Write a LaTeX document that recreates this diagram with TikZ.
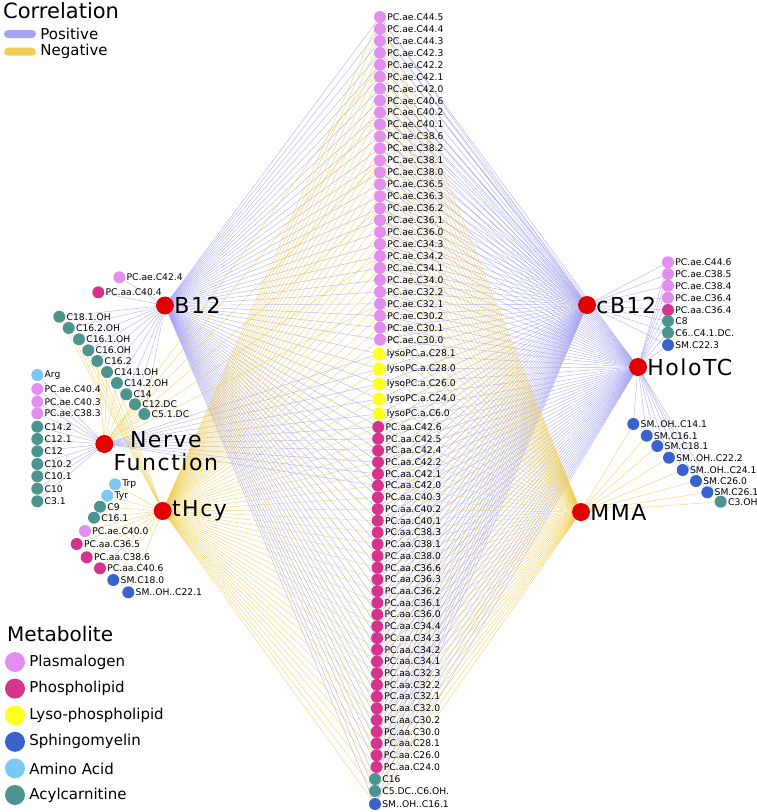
\documentclass[tikz,border=0pt]{standalone}
\usepackage{fontspec}
\setmainfont{DejaVu Sans}
\newfontfamily\metfont{DejaVu Sans}
\newfontfamily\hubfont[LetterSpace=7]{DejaVu Sans}
\pgfdeclarelayer{background}
\pgfsetlayers{background,main}
\definecolor{plasm}{HTML}{E38EEE}
\definecolor{phospho}{HTML}{D6338F}
\definecolor{lyso}{HTML}{FFFF22}
\definecolor{sphingo}{HTML}{3A62CC}
\definecolor{amino}{HTML}{7BC9F2}
\definecolor{acyl}{HTML}{4C958F}
\definecolor{hubred}{HTML}{E10000}
\definecolor{poscol}{HTML}{A3A3F0}
\definecolor{negcol}{HTML}{EFCE55}
\tikzset{
  met/.style = {circle, inner sep=0pt, minimum size=12pt, fill=#1},
  met_label/.style = {font=\metfont\fontsize{9.2}{9.2}\selectfont, inner sep=1pt},
  hub_node/.style = {circle, inner sep=0pt, minimum size=18pt, fill=hubred},
  hub_label/.style = {font=\hubfont\fontsize{22}{23}\selectfont, inner sep=0pt},
  key_bar/.style = {rectangle, rounded corners=4pt, inner sep=0pt,
    minimum width=32pt, minimum height=8pt, fill=#1},
  key_dot/.style = {circle, inner sep=0pt, minimum size=20pt, fill=#1},
  key_label/.style = {font=\fontsize{15}{15}\selectfont, inner sep=0pt, xshift=4pt},
  pos_edge/.style = {draw=poscol, line width=0.45pt, draw opacity=0.8},
  neg_edge/.style = {draw=negcol, line width=0.45pt, draw opacity=0.8}
}
\begin{document}
\begin{tikzpicture}[x=1pt, y=-1pt]
  \useasboundingbox (0,0) rectangle (757,812);
  % hubs
  \node[hub_node, label={[hub_label]right:B12}] (hub_b12) at (165,305.5) {};
  \node[hub_node, label={[hub_label]right:cB12}] (hub_cb12) at (587,305) {};
  \node[hub_node, label={[hub_label]right:HoloTC}] (hub_holotc) at (638,367) {};
  \node[hub_node, label={[hub_label, align=center, yshift=-7.5pt]right:{Nerve\\Function}}] (hub_nf) at (104.3,444) {};
  \node[hub_node, label={[hub_label]right:tHcy}] (hub_thcy) at (162.7,511) {};
  \node[hub_node, label={[hub_label]right:MMA}] (hub_mma) at (581,512) {};
  % centre column
  \foreach \mname [count=\i] in {C44.5,C44.4,C44.3,C42.3,C42.2,C42.1,C42.0,
      C40.6,C40.2,C40.1,C38.6,C38.2,C38.1,C38.0,C36.5,C36.3,C36.2,C36.1,
      C36.0,C34.3,C34.2,C34.1,C34.0,C32.2,C32.1,C30.2,C30.1,C30.0}
    \node[met=plasm, label={[met_label]right:PC.ae.\mname}] (ae\i) at (380,{5.05+11.95*\i}) {};
  \foreach \mname [count=\i] in {C28.1,C28.0,C26.0,C24.0,C6.0}
    \node[met=lyso, minimum size=13pt, label={[met_label]right:lysoPC.a.\mname}] (ly\i) at (379,{339+15*\i}) {};
  \foreach \mname [count=\i] in {C42.6,C42.5,C42.4,C42.2,C42.1,C42.0,C40.3,
      C40.2,C40.1,C38.3,C38.1,C38.0,C36.6,C36.3,C36.2,C36.1,C36.0,C34.4,
      C34.3,C34.2,C34.1,C32.3,C32.2,C32.1,C32.0,C30.2,C30.0,C28.1,C26.0,C24.0}
    \node[met=phospho, label={[met_label]right:PC.aa.\mname}] (aa\i) at ({378.3-0.06*\i},{415.3+11.72*\i}) {};
  \foreach \py/\col/\txt [count=\i] in {779/acyl/C16, 791/acyl/C5.DC..C6.OH.,
      804/sphingo/SM..OH..C16.1}
    \node[met=\col, label={[met_label]right:\txt}] (cc\i) at (375,\py) {};
  % B12 satellites
  \foreach \px/\py/\col/\txt [count=\i] in {119.3/277.3/plasm/PC.ae.C42.4,
      98.3/292.3/phospho/PC.aa.C40.4, 59.3/316.7/acyl/C18.1.OH,
      68.7/328/acyl/C16.2.OH, 79/339.3/acyl/C16.1.OH, 88.3/350.3/acyl/C16.OH,
      97.3/361/acyl/C16.2, 107/372/acyl/C14.1.OH, 117/383/acyl/C14.2.OH,
      126.3/394.3/acyl/C14, 135/404.3/acyl/C12.DC, 144.3/414/acyl/C5.1.DC}
    \node[met=\col, label={[met_label]right:\txt}] (b\i) at (\px,\py) {};
  % nerve function satellites
  \foreach \py/\col/\txt [count=\i] in {375/amino/Arg, 389/plasm/PC.ae.C40.4,
      401.7/plasm/PC.ae.C40.3, 413.3/plasm/PC.ae.C38.3, 426.7/acyl/C14.2,
      439/acyl/C12.1, 451.3/acyl/C12, 464/acyl/C10.2, 476.3/acyl/C10.1,
      488.7/acyl/C10, 501.3/acyl/C3.1}
    \node[met=\col, label={[met_label]right:\txt}] (n\i) at (37.3,\py) {};
  % tHcy satellites
  \foreach \px/\py/\col/\txt [count=\i] in {115/484.3/amino/Trp,
      107.3/495.7/amino/Tyr, 100/506.7/acyl/C9, 94/517.7/acyl/C16.1,
      85/531/plasm/PC.ae.C40.0, 76.7/544/phospho/PC.aa.C36.5,
      86.7/557.3/phospho/PC.aa.C38.6, 100/568.3/phospho/PC.aa.C40.6,
      113.3/580/sphingo/SM.C18.0, 128.3/592.3/sphingo/SM..OH..C22.1}
    \node[met=\col, label={[met_label]right:\txt}] (t\i) at (\px,\py) {};
  % cB12 satellites
  \foreach \py/\col/\txt [count=\i] in {262.3/plasm/PC.ae.C44.6,
      274/plasm/PC.ae.C38.5, 285.7/plasm/PC.ae.C38.4, 297.7/plasm/PC.ae.C36.4,
      310/phospho/PC.aa.C36.4, 321/acyl/C8, 332.7/acyl/C6..C4.1.DC.,
      345/sphingo/SM.C22.3}
    \node[met=\col, label={[met_label]right:\txt}] (r\i) at (668,\py) {};
  % HoloTC / MMA satellites
  \foreach \px/\py/\col/\txt [count=\i] in {633.3/424/sphingo/SM..OH..C14.1,
      646.7/435.7/sphingo/SM.C16.1, 657.3/446/sphingo/SM.C18.1,
      669/457.7/sphingo/SM..OH..C22.2, 682.7/470/sphingo/SM..OH..C24.1,
      696/481/sphingo/SM.C26.0, 707.3/492.3/sphingo/SM.C26.1,
      720.7/501.7/acyl/C3.OH}
    \node[met=\col, label={[met_label]right:\txt}] (s\i) at (\px,\py) {};
  % edges
  \begin{pgfonlayer}{background}
    \foreach \i in {1,...,28} \draw[pos_edge] (hub_b12) -- (ae\i) (hub_cb12) -- (ae\i) (hub_holotc) -- (ae\i);
    \foreach \i in {1,...,5} \draw[pos_edge] (hub_b12) -- (ly\i) (hub_cb12) -- (ly\i) (hub_holotc) -- (ly\i) (hub_nf) -- (ly\i);
    \foreach \i in {1,...,30} \draw[pos_edge] (hub_b12) -- (aa\i) (hub_cb12) -- (aa\i) (hub_holotc) -- (aa\i);
    \foreach \i in {1,2,3} \draw[pos_edge] (hub_b12) -- (cc\i) (hub_cb12) -- (cc\i) (hub_holotc) -- (cc\i);
    \foreach \i in {1,...,6} \draw[pos_edge] (hub_nf) -- (aa\i);
    \foreach \i in {1,...,12} \draw[pos_edge] (hub_b12) -- (b\i);
    \foreach \i in {1,...,11} \draw[pos_edge] (hub_nf) -- (n\i);
    \foreach \i in {1,...,8} \draw[pos_edge] (hub_cb12) -- (r\i) (hub_holotc) -- (r\i);
    \foreach \i in {1,...,8} \draw[pos_edge] (hub_holotc) -- (s\i);
    \foreach \i in {1,...,28} \draw[neg_edge] (hub_thcy) -- (ae\i) (hub_mma) -- (ae\i);
    \foreach \i in {1,...,5} \draw[neg_edge] (hub_thcy) -- (ly\i) (hub_mma) -- (ly\i);
    \foreach \i in {1,...,30} \draw[neg_edge] (hub_thcy) -- (aa\i) (hub_mma) -- (aa\i);
    \foreach \i in {1,2,3} \draw[neg_edge] (hub_thcy) -- (cc\i) (hub_mma) -- (cc\i);
    \foreach \i in {1,...,10} \draw[neg_edge] (hub_thcy) -- (t\i);
    \foreach \i in {3,...,9} \draw[neg_edge] (hub_thcy) -- (b\i);
    \foreach \i in {7,...,12} \draw[neg_edge] (hub_nf) -- (b\i);
    \foreach \i in {5,9,13,17,21,25} \draw[neg_edge] (hub_nf) -- (ae\i);
    \foreach \i in {1,...,8} \draw[neg_edge] (hub_mma) -- (s\i);
  \end{pgfonlayer}
  % legend
  \node[anchor=base west, inner sep=0pt, font=\fontsize{21}{21}\selectfont] (corr_title) at (3,18.3) {Correlation};
  \node[key_bar=poscol, label={[key_label]right:Positive}] (pos_key) at (20,34) {};
  \node[key_bar=negcol, label={[key_label]right:Negative}] (neg_key) at (20,51.7) {};
  \node[anchor=base west, inner sep=0pt, font=\fontsize{20}{20}\selectfont] (met_title) at (7,641.7) {Metabolite};
  \foreach \col/\txt [count=\i] in {plasm/Plasmalogen, phospho/Phospholipid,
      lyso/Lyso-phospholipid, sphingo/Sphingomyelin, amino/Amino Acid,
      acyl/Acylcarnitine}
    \node[key_dot=\col, label={[key_label]right:\txt}] (key\i) at (15,{635.4+26.6*\i}) {};
\end{tikzpicture}
\end{document}
